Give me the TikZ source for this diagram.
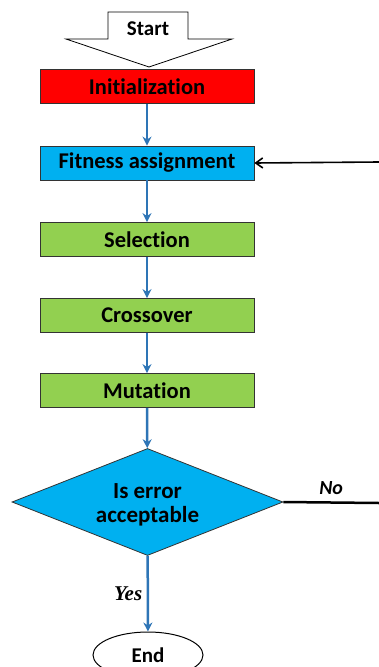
\documentclass[tikz,border=0pt]{standalone}
\usepackage{fontspec}
\setmainfont[Ligatures=NoCommon]{Carlito}
\newfontfamily\timesfont{Liberation Serif}
\usetikzlibrary{shapes.geometric,arrows.meta}
\definecolor{initred}{HTML}{FF0000}
\definecolor{fitblue}{HTML}{00B0F0}
\definecolor{stepgreen}{HTML}{92D050}
\definecolor{flowblue}{HTML}{2E75B6}
\begin{document}
\begin{tikzpicture}
    [x=1pt, y=-1pt,
     block/.style={rectangle, draw=black!80, line width=0.8pt, minimum width=214pt, minimum height=34pt, inner sep=1pt, font=\fontsize{22.5}{24}\selectfont\bfseries},
     decision/.style={diamond, draw=black!80, line width=0.8pt, fill=fitblue, minimum width=271pt, minimum height=107pt, inner sep=0pt},
     terminal/.style={ellipse, draw, line width=1pt, minimum width=110pt, minimum height=46pt, font=\fontsize{21}{24}\selectfont\bfseries},
     flow/.style={-{Stealth[length=9pt, width=9pt]}, flowblue, line width=2.5pt},
     back/.style={-{Straight Barb[length=7pt, width=10pt]}, black, line width=1.6pt}]
    \clip (0,0) rectangle (379,667);
    % start arrow
    \draw[line width=0.8pt, fill=white] (108,12) -- (188,12) -- (188,39) -- (232,39)
        -- (149,67) -- (66,39) -- (108,39) -- cycle;
    \node[font=\fontsize{21}{24}\selectfont\bfseries] (start) at (148,29) {Start};
    \node[block, fill=initred]   (init) at (147,86.5)  {Initialization};
    \node[block, fill=fitblue]   (fit)  at (147,163)   {Fitness assignment};
    \node[block, fill=stepgreen] (sel)  at (147,239.5) {Selection};
    \node[block, fill=stepgreen] (cross) at (147,315.5) {Crossover};
    \node[block, fill=stepgreen] (mut)  at (147,390.5) {Mutation};
    \node[decision] (err) at (147.5,502) {};
    \node[align=center, font=\fontsize{23}{24}\selectfont\bfseries] (errtext) at (147.5,505) {Is error\\acceptable};
    \node[terminal] (end) at (148,655) {End};
    \coordinate (noend) at (379,503);
    \coordinate (loopin) at (379,162);
    \draw[flow] (init) -- (fit);
    \draw[flow] (fit) -- (sel);
    \draw[flow] (sel) -- (cross);
    \draw[flow] (cross) -- (mut);
    \draw[flow] (mut) -- (err);
    \draw[flow] (err) -- node[left=1pt, black, font=\timesfont\fontsize{21}{24}\selectfont\bfseries\itshape] {Yes} (end);
    \draw[line width=2.5pt] (err.east) -- node[above=3pt, font=\fontsize{20}{24}\selectfont\bfseries\itshape] {No} (noend);
    \draw[back] (loopin) -- (fit.east);
\end{tikzpicture}
\end{document}
